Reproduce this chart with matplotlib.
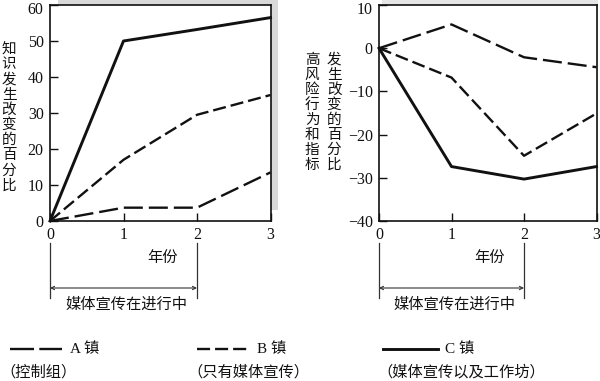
import matplotlib
matplotlib.use("Agg")
import matplotlib.pyplot as plt
from matplotlib.patches import Rectangle
from matplotlib.lines import Line2D
import matplotlib.transforms as mtransforms

plt.rcParams['lines.scale_dashes'] = False

# ---------------- data ----------------
years = [0, 1, 2, 3]
knowledge_A = [0, 3.7, 3.7, 13.5]
knowledge_B = [0, 17, 29.5, 35]
knowledge_C = [0, 50, 53.2, 56.5]

risk_A = [0, 5.5, -2.1, -4.4]
risk_B = [0, -6.8, -24.9, -15.1]
risk_C = [0, -27.4, -30.3, -27.4]

left_yticks = [0, 10, 20, 30, 40, 50, 60]
right_yticks = [-40, -30, -20, -10, 0, 10]

left_ylabel = "知识发生改变的百分比"
right_ylabel_1 = "高风险行为和指标"
right_ylabel_2 = "发生改变的百分比"
xlabel = "年份"
campaign_label = "媒体宣传在进行中"

legend_names = ["A 镇", "B 镇", "C 镇"]
legend_desc = ["（控制组）", "（只有媒体宣传）", "（媒体宣传以及工作坊）"]

# ---------------- styles ----------------
W, H = 600, 381
dash_A = (0, (13.7, 4.3))
dash_B = (0, (9.4, 3.6))
dash_A_leg = (0, (17.3, 3.8))
lw_d = 1.7
lw_s = 2.1
ink = "#111111"
cjk = ['Noto Sans CJK SC', 'DejaVu Sans']
serif = ['Liberation Serif', 'Noto Sans CJK SC']

def fx(x):
    return x / W

def fy(y):
    return 1 - y / H

fig = plt.figure(figsize=(6.0, 3.81), dpi=100)
fig.patch.set_facecolor('white')

axL = fig.add_axes([fx(50), fy(221), (270.5 - 50) / W, (221 - 5) / H])
axR = fig.add_axes([fx(379), fy(221), (596.5 - 379) / W, (221 - 5) / H])

# shadows
fig.add_artist(Rectangle((fx(58), fy(210)), (278 - 58) / W, (210 + 7) / H,
                         transform=fig.transFigure, facecolor='#d9d9d9',
                         edgecolor='none', zorder=-1))
fig.add_artist(Rectangle((fx(382), fy(210)), (598 - 382) / W, (210 + 7) / H,
                         transform=fig.transFigure, facecolor='#e6e6e6',
                         edgecolor='none', zorder=-1))

def style(ax, ylim, yticks):
    ax.set_facecolor('white')
    ax.set_xlim(0, 3)
    ax.set_ylim(*ylim)
    ax.set_xticks(years)
    ax.set_yticks(yticks)
    ax.tick_params(direction='in', length=6, width=1.0, colors=ink,
                   labelsize=11.5, pad=4.5)
    for lab in ax.get_xticklabels() + ax.get_yticklabels():
        lab.set_family(serif)
    for s in ax.spines.values():
        s.set_linewidth(1.2)
        s.set_color(ink)
    # nudge the top tick label down a little so it stays inside the figure
    top = ax.get_yticklabels()[-1]
    top.set_transform(top.get_transform() +
                      mtransforms.ScaledTranslation(0, -2.5 / 100, fig.dpi_scale_trans))

style(axL, (0, 60), left_yticks)
style(axR, (-40, 10), right_yticks)

axL.plot(years, knowledge_A, color=ink, lw=lw_d, linestyle=dash_A, clip_on=False)
axL.plot(years, knowledge_B, color=ink, lw=lw_d, linestyle=dash_B, clip_on=False)
axL.plot(years, knowledge_C, color=ink, lw=lw_s, clip_on=False)

axR.plot(years, risk_A, color=ink, lw=lw_d, linestyle=dash_A, clip_on=False)
axR.plot(years, risk_B, color=ink, lw=lw_d, linestyle=dash_B, clip_on=False)
axR.plot(years, risk_C, color=ink, lw=lw_s, clip_on=False)

# vertical y labels (stacked characters)
def stack(text, x, y0, step, size=10.5):
    for i, ch in enumerate(text):
        fig.text(fx(x), fy(y0 + i * step), ch, ha='center', va='center',
                 fontsize=size, family=cjk, color=ink)

stack(left_ylabel, 9, 49, 15.2)
stack(right_ylabel_1, 312, 60, 15.0)
stack(right_ylabel_2, 334, 60, 15.0)

# bracket annotations under each axis
for ax in (axL, axR):
    tr = mtransforms.blended_transform_factory(ax.transData, fig.transFigure)
    for xv in (0, 2):
        ax.add_line(Line2D([xv, xv], [fy(243), fy(298)], transform=tr,
                           color='#333333', lw=0.9, clip_on=False))
    ax.annotate('', xy=(2, fy(288)), xytext=(0, fy(288)), xycoords=tr,
                textcoords=tr,
                arrowprops=dict(arrowstyle='<->', lw=0.8, color='#333333',
                                shrinkA=0, shrinkB=0, mutation_scale=6))
    ax.text(1.53, fy(257), xlabel, transform=tr, ha='center', va='center',
            fontsize=11, family=cjk, color=ink)
    ax.text(1.04, fy(304), campaign_label, transform=tr, ha='center',
            va='center', fontsize=11, family=cjk, color=ink)

# legend drawn manually
leg_line_x = [(10, 62), (197, 248), (383, 438)]
leg_styles = [dict(lw=lw_d, linestyle=dash_A_leg), dict(lw=lw_d, linestyle=dash_B),
              dict(lw=lw_s, linestyle='-')]
leg_text_x = [70, 257, 445]
leg_desc_x = [0, 187, 377]
row1, row2 = 349, 372
for (x0, x1), st, tx, name, dx, desc in zip(leg_line_x, leg_styles, leg_text_x,
                                           legend_names, leg_desc_x, legend_desc):
    fig.add_artist(Line2D([fx(x0), fx(x1)], [fy(row1), fy(row1)],
                          transform=fig.transFigure, color=ink, **st))
    fig.text(fx(tx), fy(row1), name, ha='left', va='center', fontsize=11,
             family=serif, color=ink)
    fig.text(fx(dx), fy(row2), desc, ha='left', va='center', fontsize=11,
             family=cjk, color=ink)

fig.savefig("out.png", dpi=100, facecolor='white')
